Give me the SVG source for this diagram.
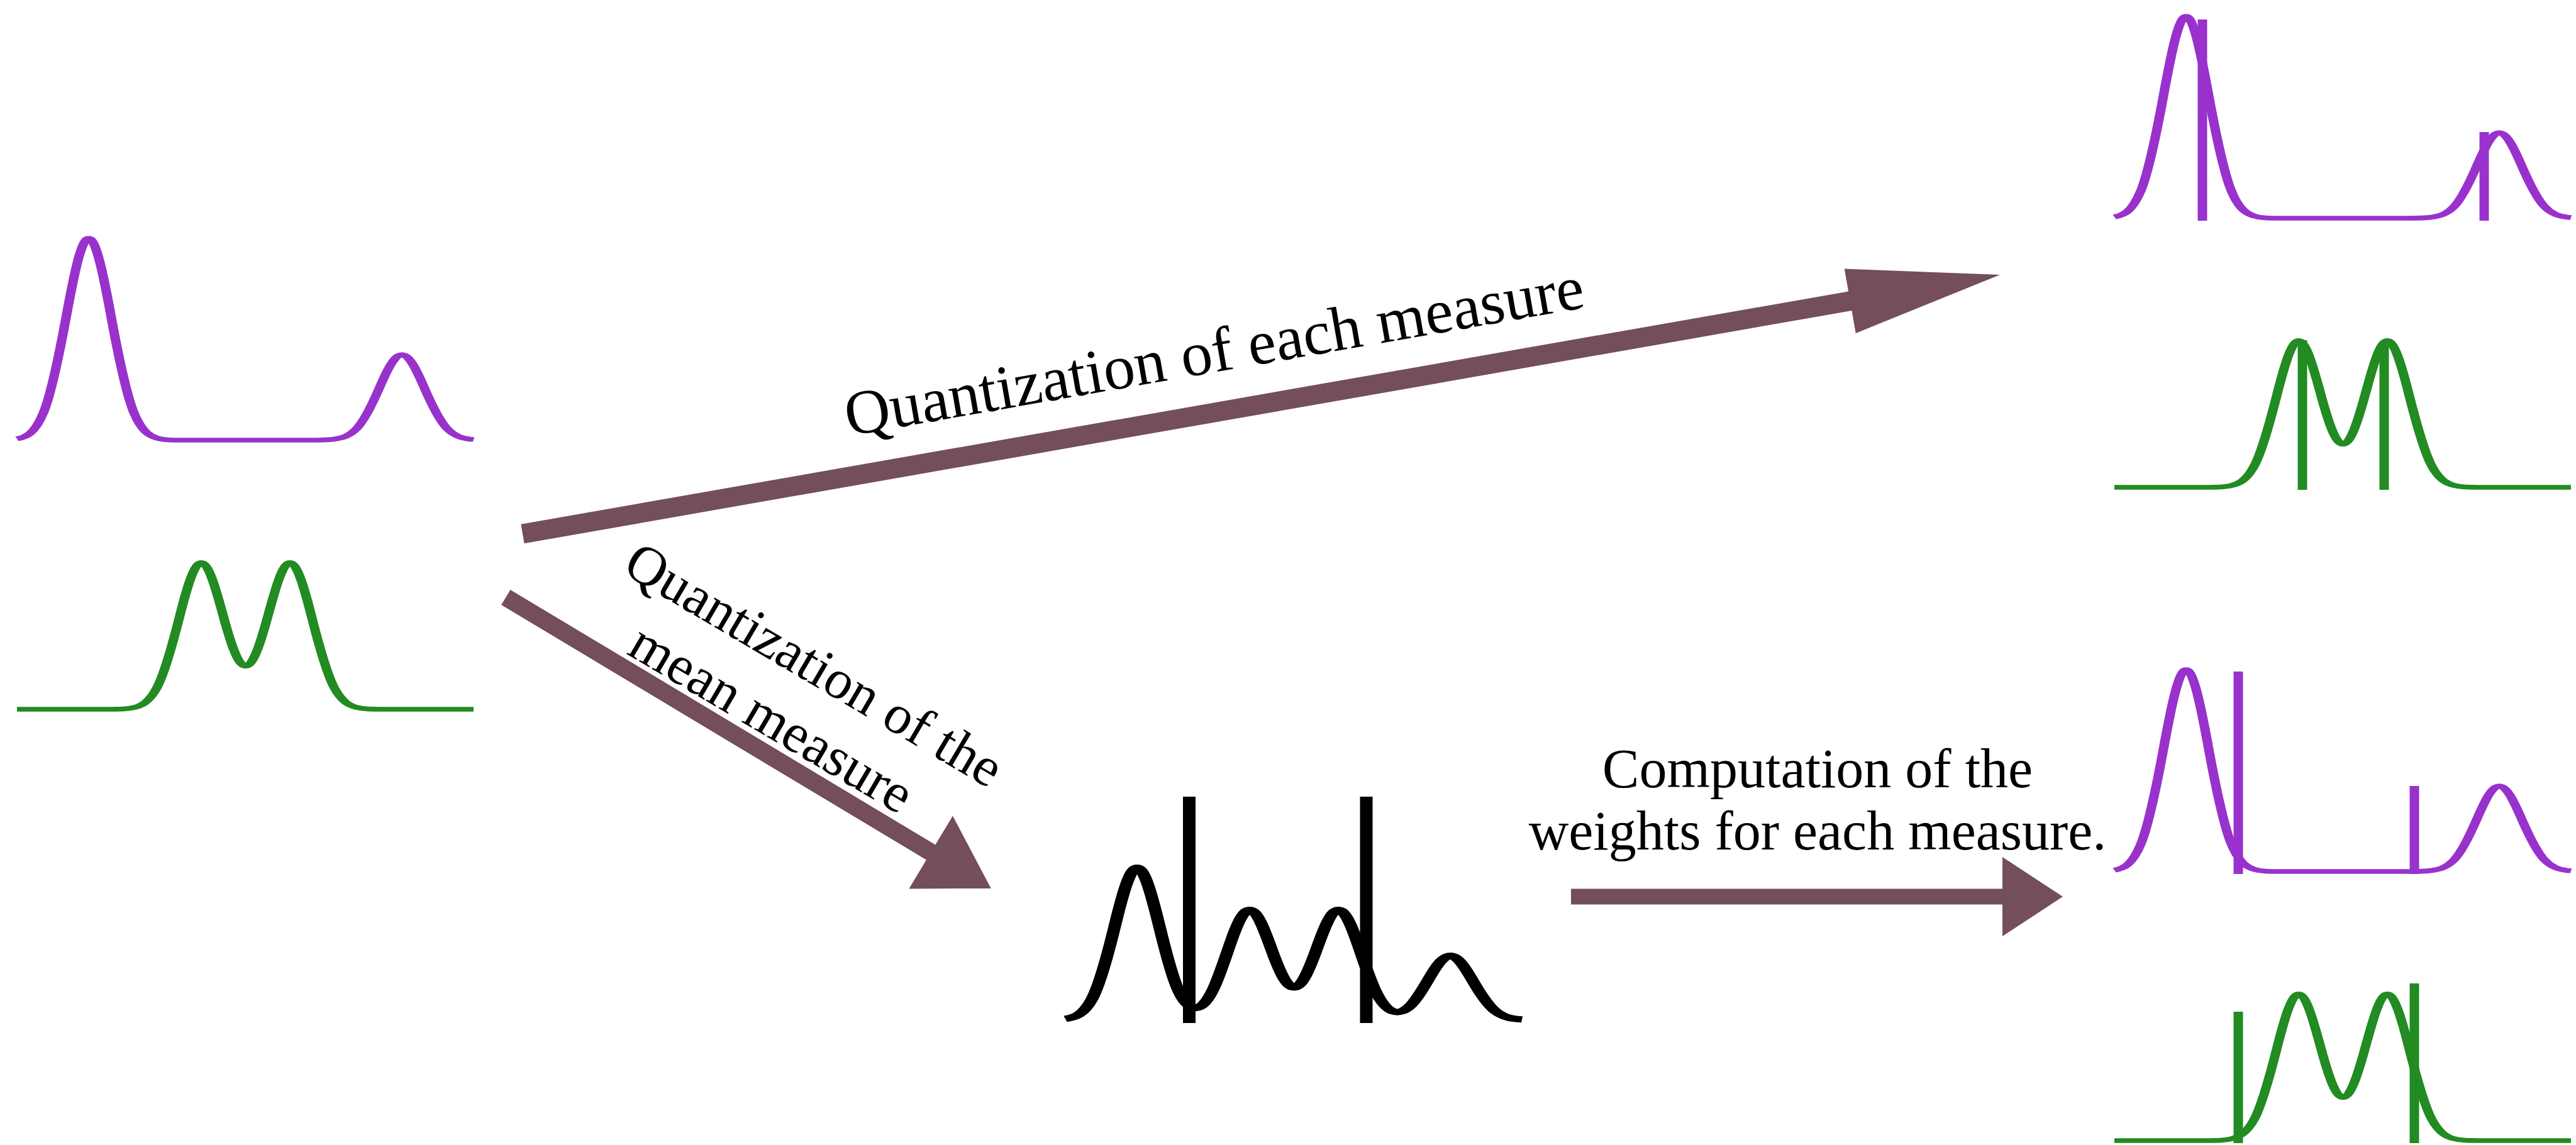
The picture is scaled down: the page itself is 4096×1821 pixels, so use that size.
<svg xmlns="http://www.w3.org/2000/svg" xmlns:xlink="http://www.w3.org/1999/xlink" width="4096" height="1821" viewBox="0 0 4096 1821">
<style>
.pur{fill:none;stroke:#9932CC;stroke-width:7.6;stroke-linejoin:round}
.grn{fill:none;stroke:#228B22;stroke-width:7.6;stroke-linejoin:round}
.blk{fill:none;stroke:#000;stroke-width:10;stroke-linejoin:round}
.pbar{fill:#9932CC}
.gbar{fill:#228B22}
.kbar{fill:#000}
.arrow{fill:#744E5A}
.lbl{font-family:"Liberation Serif","Times New Roman",serif;font-size:88px;fill:#000;text-anchor:middle}
</style>
<defs>
<!-- curves drawn at half width, stretched 2x horizontally by their users -->
<path id="purpleCurve" d="M13.5 697.9 C20.5 695.3 27.5 690.4 34.5 656.6 C40.5 627.6 46.5 570.2 52.5 505.3 C58.5 440.4 64.5 379 70.5 379 C76.5 379 82.5 440.4 88.5 505.3 C94.5 570.2 100.5 627.6 106.5 656.6 C112.5 685.6 118.5 692.8 124.5 696.4 C130.5 700 136.5 700 142.5 700 L247.5 700 C253.5 700 259.5 700 265.5 698.5 C271.5 697 277.5 693.9 283.5 681.6 C289.5 669.3 295.5 645 301.5 617.5 C307.5 590 313.5 564 319.5 564 C325.5 564 331.5 590 337.5 617.5 C343.5 645 349.5 669.3 355.5 681.6 C361.5 693.9 367.5 697 373.5 698.5 L376.5 699"/>
<path id="greenCurve" d="M13.5 1121 L89.5 1121 C95.375 1120.7 101.25 1120.9 107.125 1117.9 C113 1114.9 118.875 1108.6 124.75 1086.8 C130.625 1064.9 136.5 1022.8 142.375 976.7 C148.25 930.6 154.125 887.9 160 887.9 C165.875 887.9 171.75 930.5 177.625 973.6 C183.5 1016.7 189.375 1052.5 195.25 1052.5 C201.125 1052.5 207 1016.7 212.875 973.6 C218.75 930.5 224.625 887.9 230.5 887.9 C236.375 887.9 242.25 930.6 248.125 976.7 C254 1022.8 259.875 1064.9 265.75 1086.8 C271.625 1108.6 277.5 1114.9 283.375 1117.9 C289.25 1120.9 295.125 1120.7 301 1121 L376.5 1121"/>
</defs>
<rect x="0" y="0" width="4096" height="1821" fill="#fff"/>

<g id="input-measures">
<use xlink:href="#purpleCurve" class="pur" transform="matrix(2,0,0,1,0,0)"/>
<use xlink:href="#greenCurve" class="grn" transform="matrix(2,0,0,1,0,7)"/>
</g>

<g id="quantized-each-measure">
<use xlink:href="#purpleCurve" class="pur" transform="matrix(2,0,0,1,3335,-353)"/>
<use xlink:href="#greenCurve" class="grn" transform="matrix(2,0,0,1,3335,-346)"/>
<rect class="pbar" x="3494.5" y="31" width="15" height="320"/>
<rect class="pbar" x="3942.5" y="210" width="15" height="141"/>
<rect class="gbar" x="3653.5" y="541" width="15" height="238"/>
<rect class="gbar" x="3783.5" y="549" width="15" height="230"/>
</g>

<g id="mean-measure">
<path class="blk" transform="matrix(2,0,0,1,0,5)" d="M847 1615.4 C854 1613.4 861 1609.7 868 1584.3 C874 1562.4 880 1519.1 886 1470.2 C892 1421.3 898 1375 904 1375 C910 1375 916 1421.4 922 1470.2 C926.65 1508.2 931.35 1544 936 1566.1 C940.85 1589 945.65 1598.8 950.5 1598.3 C955.15 1597.8 959.85 1587.6 964.5 1568.4 C969.35 1548.5 974.15 1517.8 979 1490.5 C983.85 1463.1 988.65 1441.9 993.5 1441.9 C999.4 1441.9 1005.25 1473.9 1011.15 1506.3 C1017 1538.7 1022.9 1565.6 1028.75 1565.6 C1034.65 1565.6 1040.5 1538.7 1046.4 1506.3 C1052.25 1473.9 1058.15 1441.9 1064 1441.9 C1068.85 1441.9 1073.65 1463.1 1078.5 1490.5 C1083.35 1517.8 1088.15 1548.5 1093 1568.8 C1097.85 1589.1 1102.65 1600.1 1107.5 1603.4 C1112.15 1606.6 1116.85 1603 1121.5 1593.9 C1126.65 1583.8 1131.85 1565.7 1137 1548.2 C1142.35 1530.2 1147.65 1515 1153 1515 C1159 1515 1165 1534.5 1171 1555.1 C1177 1575.8 1183 1594 1189 1603.2 C1196 1613.9 1203 1615.5 1210 1616.3"/>
<rect class="kbar" x="1881" y="1267" width="20" height="360"/>
<rect class="kbar" x="2162.5" y="1267" width="20" height="360"/>
</g>

<g id="weighted-measures">
<use xlink:href="#purpleCurve" class="pur" transform="matrix(2,0,0,1,3335,686)"/>
<use xlink:href="#greenCurve" class="grn" transform="matrix(2,0,0,1,3335,693)"/>
<rect class="pbar" x="3551.5" y="1068" width="15" height="322"/>
<rect class="pbar" x="3831.5" y="1250" width="15" height="140"/>
<rect class="gbar" x="3551.5" y="1609" width="15" height="209"/>
<rect class="gbar" x="3831.5" y="1564" width="15" height="254"/>
</g>

<g id="connectors">
<polygon class="arrow" transform="translate(831,849) rotate(-9.95)" points="0,-15.5 2143,-15.5 2143,-52 2385,0 2143,52 2143,15.5 0,15.5"/>
<polygon class="arrow" transform="translate(804.3,949.9) rotate(30.97)" points="0,-14 788.2,-14 788.2,-67.6 899.7,0 788.2,67.6 788.2,14 0,14"/>
<polygon class="arrow" points="2498,1413.5 3184,1413.5 3184,1363 3280,1426 3184,1489 3184,1438.5 2498,1438.5"/>
</g>

<g id="labels">
<text class="lbl" style="font-size:100px" transform="translate(1936,591) rotate(-9.9)">Quantization of each measure</text>
<g transform="translate(1280,1082) rotate(30.5)">
<text class="lbl" x="0" y="0">Quantization of the</text>
<text class="lbl" x="-15" y="108">mean measure</text>
</g>
<text class="lbl" x="2890" y="1252">Computation of the</text>
<text class="lbl" x="2890" y="1351">weights for each measure.</text>
</g>
</svg>
